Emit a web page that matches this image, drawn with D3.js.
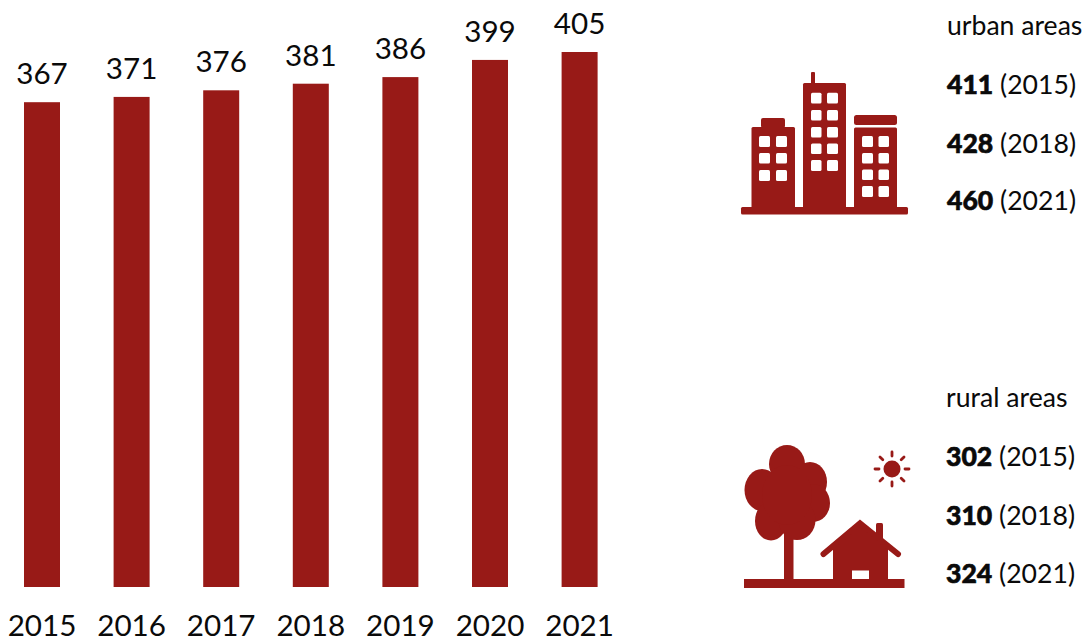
<!DOCTYPE html>
<html><head><meta charset="utf-8">
<script src="https://cdn.jsdelivr.net/npm/d3@7"></script>
<style>html,body{margin:0;padding:0;background:#fff}svg{display:block}text{font-family:Lato,sans-serif;fill:#0a0a0a}</style>
</head><body><svg id="c" width="1085" height="639"></svg>
<script>
const years=[2015,2016,2017,2018,2019,2020,2021];
const values=[367,371,376,381,386,399,405];
const urbanTitle="urban areas";
const urbanYears=[2015,2018,2021];
const urbanValues=[411,428,460];
const ruralTitle="rural areas";
const ruralYears=[2015,2018,2021];
const ruralValues=[302,310,324];
const RED="#981a17";
const svg=d3.select("#c");
const xs=d3.scalePoint().domain(years).range([42,579.6]);
const y=d3.scaleLinear().domain([0,405]).range([587,52]);
const bw=36;
svg.append("g").selectAll("rect").data(values).join("rect")
 .attr("x",(d,i)=>xs(years[i])-bw/2).attr("width",bw)
 .attr("y",d=>y(d)).attr("height",d=>587-y(d)).attr("fill",RED);
svg.append("g").selectAll("text").data(values).join("text")
 .attr("x",(d,i)=>xs(years[i])).attr("y",d=>y(d)-18).attr("text-anchor","middle")
 .attr("font-size",29.6).text(d=>d);
svg.append("g").selectAll("text").data(years).join("text")
 .attr("x",d=>xs(d)).attr("y",636).attr("text-anchor","middle").attr("font-size",29.6).text(d=>d);

function block(title,yrs,vals,tx,ty,rows){
 const g=svg.append("g");
 g.append("text").attr("x",tx).attr("y",ty).attr("font-size",26.6).text(title);
 const t=g.selectAll("text.r").data(vals).join("text").attr("class","r")
  .attr("x",tx).attr("y",(d,i)=>rows[i]).attr("font-size",26.6);
 t.append("tspan").attr("font-weight",900).attr("stroke","#0a0a0a").attr("stroke-width",0.6).text(d=>d);
 t.append("tspan").text((d,i)=>" ("+yrs[i]+")");
}
block(urbanTitle,urbanYears,urbanValues,947,35,[94,153,210]);
block(ruralTitle,ruralYears,ruralValues,946,407,[466,525,583]);

// city icon
const city=svg.append("g").attr("fill",RED);
function R(g,x0,y0,x1,y1,r=1,f=RED){g.append("rect").attr("x",x0).attr("y",y0).attr("width",x1-x0).attr("height",y1-y0).attr("rx",r).attr("fill",f);}
R(city,741,207,908,214.5,1.5);
R(city,751.5,127,795,208,1.5);R(city,761,118,785,128,2);
R(city,803,83,846,208,1.5);R(city,811,72,815,84,1);
R(city,854,127.5,897,208,1.5);R(city,854,115,897,125,2.5);
[[[759,770],[776,787]],[[811,821.5],[827,838]],[[862,873],[878.5,889]]].forEach((cols,k)=>{
 const rows=[[[136,147],[153,163.5],[170,181]],[[92.7,103.5],[110,120.5],[127,137.5],[143.5,154],[160,171]],[[136,147],[153,163.5],[169.5,180],[186,197]]][k];
 cols.forEach(c=>rows.forEach(r=>R(city,c[0],r[0],c[1],r[1],1.5,"#fff")));
});

// rural icon
const rur=svg.append("g").attr("fill",RED);
R(rur,744,579,904.5,588,0);
R(rur,784,530,793.5,580,0);
[[787,464,18,19],[762,490,17.5,21],[810,482,17,20],[813,503,17,19],[771,521,16,19.5],[797,520,18.5,20],[787,495,25,30]].forEach(e=>
 rur.append("ellipse").attr("cx",e[0]).attr("cy",e[1]).attr("rx",e[2]).attr("ry",e[3]));
// sun
rur.append("circle").attr("cx",892).attr("cy",469).attr("r",8.5);
d3.range(8).forEach(i=>{const a=i*Math.PI/4;
 rur.append("line").attr("x1",892+13*Math.cos(a)).attr("y1",469+13*Math.sin(a))
  .attr("x2",892+17*Math.cos(a)).attr("y2",469+17*Math.sin(a))
  .attr("stroke",RED).attr("stroke-width",2.8).attr("stroke-linecap","round");});
// house
R(rur,876,523,883,545,1.5);
rur.append("path").attr("d","M833 548 L860 526 L888 548 L888 580 L833 580 Z");
rur.append("path").attr("d","M823.5 554 L860 523.5 L898 554").attr("fill","none").attr("stroke",RED).attr("stroke-width",6).attr("stroke-linecap","round").attr("stroke-linejoin","miter");
R(rur,852,570.5,869,579,0,"#fff");
</script></body></html>
